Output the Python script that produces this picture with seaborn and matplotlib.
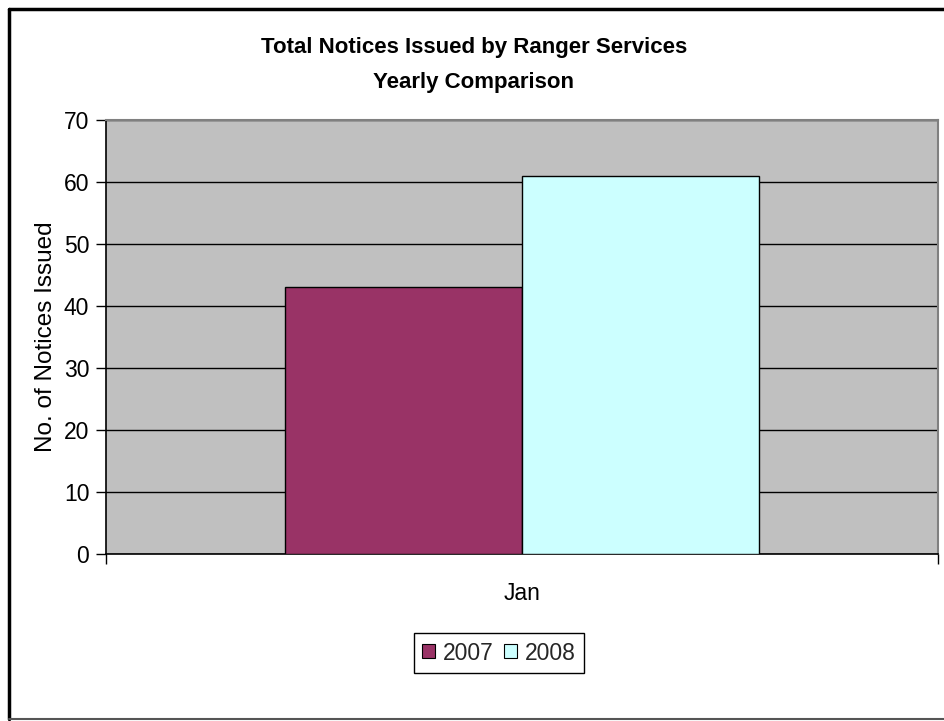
import matplotlib
matplotlib.use("Agg")
import matplotlib.pyplot as plt
import seaborn as sns
import pandas as pd
from matplotlib.lines import Line2D
from matplotlib.ticker import FixedLocator
from matplotlib import font_manager

# ---- data ----
months = ["Jan"]
years = ["2007", "2008"]
values_2007 = [43]
values_2008 = [61]
y_ticks = [0, 10, 20, 30, 40, 50, 60, 70]
title_text = "Total Notices Issued by Ranger Services\nYearly Comparison"
y_label = "No. of Notices Issued"

df = pd.DataFrame({
    "Month": months * 2,
    "Year": [years[0]] * len(months) + [years[1]] * len(months),
    "Notices": values_2007 + values_2008,
})

sns.set_theme(style="white")
names = {f.name for f in font_manager.fontManager.ttflist}
base_font = "Liberation Sans" if "Liberation Sans" in names else "DejaVu Sans"
title_font = "Liberation Sans Narrow" if "Liberation Sans Narrow" in names else base_font
plt.rcParams["font.family"] = [base_font, "DejaVu Sans"]

W, H = 945, 721
fig = plt.figure(figsize=(W / 100, H / 100), dpi=100)
fig.patch.set_facecolor("white")

left, right, top, bottom = 106, 938, 120, 554
ax = fig.add_axes([left / W, 1 - bottom / H, (right - left) / W, (bottom - top) / H])
ax.set_facecolor("#C0C0C0")

palette = {"2007": "#993366", "2008": "#CCFFFF"}
sns.barplot(data=df, x="Month", y="Notices", hue="Year", palette=palette,
            width=0.57, edgecolor="black", linewidth=1.0, saturation=1,
            ax=ax, zorder=3, legend=True)

ax.set_xlim(-0.5, 0.5)
ax.set_ylim(0, 70)
ax.set_yticks(y_ticks)
ax.yaxis.grid(True, color="black", linewidth=1.0, zorder=1)
ax.set_axisbelow(True)
ax.xaxis.grid(False)

fs = 16.5
ax.tick_params(axis="y", direction="out", length=7, width=1, color="black",
               labelsize=fs, pad=5, left=True, labelcolor="black")
ax.tick_params(axis="x", which="major", length=0, labelsize=fs, pad=20, labelcolor="black")
ax.xaxis.set_minor_locator(FixedLocator([-0.5, 0.5]))
ax.tick_params(axis="x", which="minor", direction="out", length=7, width=1,
               color="black", bottom=True)

ax.set_xlabel("")
ax.set_ylabel(y_label, fontsize=17.5, color="black")
ax.yaxis.set_label_coords((57 - left) / (right - left), 0.5)

for s in ["left", "bottom"]:
    ax.spines[s].set_color("black")
    ax.spines[s].set_linewidth(1.2)
for s in ["top", "right"]:
    ax.spines[s].set_visible(True)
    ax.spines[s].set_color("#808080")
    ax.spines[s].set_linewidth(1.5)

# legend
handles, labels = ax.get_legend_handles_labels()
ax.legend_.remove()
leg = fig.legend(handles, labels, loc="center", ncol=2,
                 bbox_to_anchor=(499 / W, 1 - 653 / H),
                 frameon=True, fancybox=False, framealpha=1,
                 edgecolor="black", fontsize=fs, handlelength=0.55,
                 handleheight=0.55, handletextpad=0.35, columnspacing=0.45,
                 borderpad=0.35, borderaxespad=0)
leg.get_frame().set_linewidth(1.0)
for h in leg.legend_handles:
    h.set_edgecolor("black")
    h.set_linewidth(0.8)

# title
fig.text(474 / W, 1 - 65 / H, title_text, ha="center", va="center",
         fontsize=16, fontweight="bold", family=[title_font, "DejaVu Sans"],
         linespacing=1.85, color="black")

# outer chart border (left, top, bottom)
fig.add_artist(Line2D([9 / W, 9 / W], [1 - 9 / H, 1 - 719 / H],
                      transform=fig.transFigure, color="black", linewidth=2.5))
fig.add_artist(Line2D([9 / W, 1.0], [1 - 9 / H, 1 - 9 / H],
                      transform=fig.transFigure, color="black", linewidth=2.5))
fig.add_artist(Line2D([9 / W, 1.0], [1 - 719 / H, 1 - 719 / H],
                      transform=fig.transFigure, color="#555555", linewidth=1.5))

fig.savefig("out.png", dpi=100)
